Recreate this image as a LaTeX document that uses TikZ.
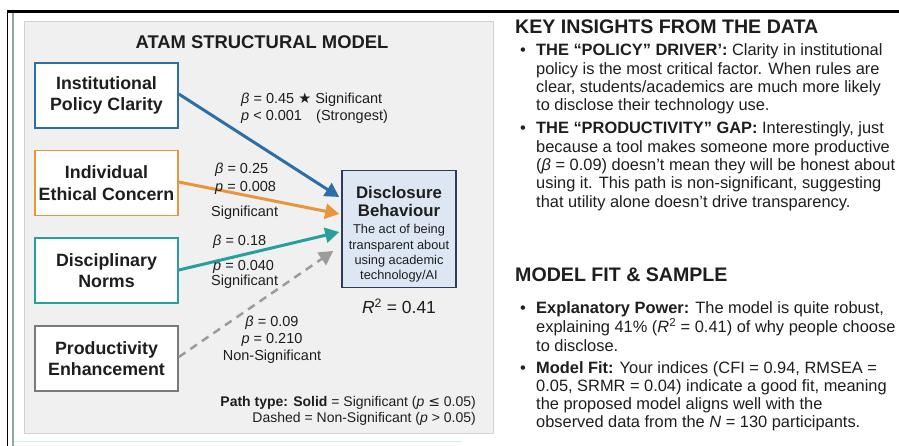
\documentclass[tikz,border=0pt]{standalone}
\usepackage{fontspec}
\setmainfont{Liberation Sans}
\newfontfamily\symb{DejaVu Sans}
\usetikzlibrary{arrows.meta}
\newcommand{\fsz}[2]{\fontsize{#1}{#2}\selectfont}
\definecolor{cblue}{HTML}{2D6EA7}
\definecolor{corange}{HTML}{E8963B}
\definecolor{cteal}{HTML}{27A09B}
\definecolor{cgraybox}{HTML}{7A7A7A}
\definecolor{cgrayarr}{HTML}{9C9C9C}
\definecolor{cnavy}{HTML}{2B3D5B}
\definecolor{cdbfill}{HTML}{DDE7F3}
\definecolor{panelfill}{HTML}{F0F0F0}
\definecolor{panelline}{HTML}{D2D2D2}
\definecolor{framegray}{HTML}{8FA8A5}
\definecolor{framecyan}{HTML}{D6EEF2}
\definecolor{ctext}{HTML}{1E1E1E}
\begin{document}
\begin{tikzpicture}[x=1pt,y=-1pt,
  every node/.style={text=ctext},
  factor/.style={draw, fill=white, line width=1.6pt, minimum width=143pt,
    minimum height=65pt, align=center, inner sep=0pt,
    font=\bfseries\fsz{17.8}{21.5}},
  pathlbl/.style={inner sep=0pt, font=\fsz{14.5}{16}},
  sigarrow/.style={line width=3pt, -{Triangle[length=14pt,width=15pt]}},
  nsarrow/.style={line width=2.5pt, cgrayarr, dash pattern=on 8pt off 6pt,
    -{Triangle[length=14pt,width=15pt]}},
  bodytext/.style={inner sep=0pt, anchor=base west, font=\fsz{16.4}{18.3}},
  heading/.style={inner sep=0pt, anchor=base west, font=\bfseries\fsz{19.6}{22}},
]
\useasboundingbox (0,0) rectangle (899,446);
\fill[white] (0,0) rectangle (899,446);

% outer frame lines
\fill[black] (6.6,10.4) rectangle (899,12.8);
\fill[black] (6.6,10.4) rectangle (8.4,446);
\fill[framegray] (12.2,12.8) rectangle (13.8,446);
\fill[framecyan] (14,440.8) rectangle (462,442.3);

% diagram panel
\draw[panelline, fill=panelfill, line width=1pt] (24,22) rectangle (493,433);

\node[font=\bfseries\fsz{18.4}{20}] (title) at (262,42) {ATAM STRUCTURAL MODEL};

% predictor boxes
\node[factor, draw=cblue]    (ipc) at (106.5,95.5)  {Institutional\\Policy Clarity};
\node[factor, draw=corange]  (iec) at (106.5,183)   {Individual\\Ethical Concern};
\node[factor, draw=cteal]    (dn)  at (106.5,270.5) {Disciplinary\\Norms};
\node[factor, draw=cgraybox] (pe)  at (106.5,358.5) {Productivity\\Enhancement};

% outcome box
\node[draw=cnavy, fill=cdbfill, line width=1.6pt, minimum width=114pt,
      minimum height=117pt, inner sep=0pt] (db) at (399,229) {};
\node[font=\bfseries\fsz{16.8}{18.5}, align=center, inner sep=0pt] (dbtitle) at (399,201.5)
  {Disclosure\\Behaviour};
\node[font=\fsz{12.8}{15.3}, align=center, inner sep=0pt] (dbdesc) at (399,253.5)
  {The act of being\\transparent about\\using academic\\technology/AI};
\node[font=\fsz{17.5}{19}, inner sep=0pt] (r2) at (399,306) {\textit{R}\textsuperscript{2} = 0.41};

% structural paths
\draw[sigarrow, cblue]   (ipc.east |- 0,94) -- ([shift={(-2,-32)}]db.west);
\draw[sigarrow, corange] (iec.east |- 0,182) -- ([shift={(-2,-15)}]db.west);
\draw[sigarrow, cteal]   (dn.east |- 0,270) -- ([shift={(-2,3)}]db.west);
\draw[nsarrow]           (pe.east |- 0,357) -- ([shift={(-8,22)}]db.west);

% path coefficients
\node[pathlbl, anchor=west] (la1) at (241,100) {\textit{β} = 0.45 {\symb ★} Significant};
\node[pathlbl, anchor=west] (la2) at (241,117) {\textit{p} < 0.001};
\node[pathlbl, anchor=west] (la3) at (316,117) {(Strongest)};
\node[pathlbl, anchor=west] (lb1) at (215,170) {\textit{β} = 0.25};
\node[pathlbl, anchor=west] (lb2) at (215,188) {\textit{p} = 0.008};
\node[pathlbl, anchor=west] (lb3) at (211,213) {Significant};
\node[pathlbl, anchor=west] (lc1) at (213,242) {\textit{β} = 0.18};
\node[pathlbl, anchor=west] (lc2) at (213,267) {\textit{p} = 0.040};
\node[pathlbl, anchor=west] (lc3) at (211,282) {Significant};
\node[pathlbl] (ld1) at (272,323) {\textit{β} = 0.09};
\node[pathlbl] (ld2) at (272,340) {\textit{p} = 0.210};
\node[pathlbl] (ld3) at (272,357) {Non-Significant};

% legend
\node[pathlbl, font=\fsz{14}{16}, anchor=east] (leg1) at (476,403)
  {\textbf{Path type: Solid} = Significant (\textit{p} {\symb ≤} 0.05)};
\node[pathlbl, font=\fsz{14}{16}, anchor=east] (leg2) at (476,419)
  {Dashed = Non-Significant (\textit{p} > 0.05)};

% insights column
\node[heading] (h1) at (515,33.5) {KEY INSIGHTS FROM THE DATA};
\node[bodytext] (b1) at (520,56) {\begin{tabular}[t]{@{}p{16pt}@{}l@{}}
•&\textbf{THE “POLICY” DRIVER’:} Clarity in institutional\\
 &policy is the most critical factor. When rules are\\
 &clear, students/academics are much more likely\\
 &to disclose their technology use.
\end{tabular}};
\node[bodytext] (b2) at (520,134) {\begin{tabular}[t]{@{}p{16pt}@{}l@{}}
•&\textbf{THE “PRODUCTIVITY” GAP:} Interestingly, just\\
 &because a tool makes someone more productive\\
 &(\textit{β} = 0.09) doesn’t mean they will be honest about\\
 &using it. This path is non-significant, suggesting\\
 &that utility alone doesn’t drive transparency.
\end{tabular}};

\node[heading] (h2) at (515,282) {MODEL FIT \& SAMPLE};
\node[bodytext] (b3) at (520,313) {\begin{tabular}[t]{@{}p{16pt}@{}l@{}}
•&\textbf{Explanatory Power:} The model is quite robust,\\
 &explaining 41\% (\textit{R}\textsuperscript{2} = 0.41) of why people choose\\
 &to disclose.
\end{tabular}};
\node[bodytext] (b4) at (520,373) {\begin{tabular}[t]{@{}p{16pt}@{}l@{}}
•&\textbf{Model Fit:} Your indices (CFI = 0.94, RMSEA =\\
 &0.05, SRMR = 0.04) indicate a good fit, meaning\\
 &the proposed model aligns well with the\\
 &observed data from the \textit{N} = 130 participants.
\end{tabular}};
\end{tikzpicture}
\end{document}
